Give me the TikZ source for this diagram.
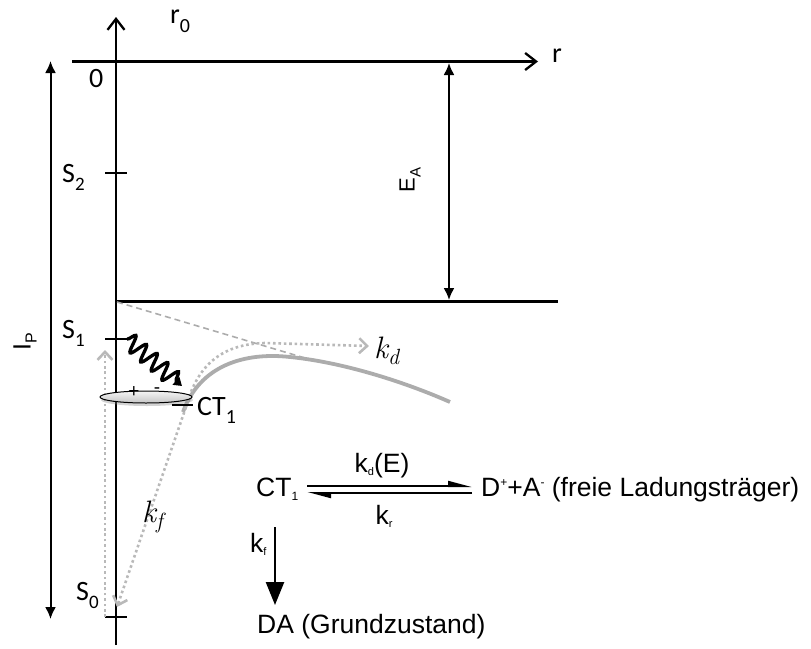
\documentclass[tikz,border=0pt]{standalone}
\usepackage{fontspec}
\newfontfamily\calf{Carlito}
\newfontfamily\arif{Liberation Sans}
\usetikzlibrary{arrows.meta,decorations.pathmorphing,shadows,shapes.geometric}
\definecolor{lgray}{RGB}{172,172,172}
\definecolor{dgray}{RGB}{185,185,185}
\begin{document}
\begin{tikzpicture}[x=1pt,y=-1pt,
  axis/.style={line width=2.3pt},
  openarrow/.style={-{Straight Barb[length=11pt,width=17pt]}},
  dimarrow/.style={line width=2pt,{Latex[length=12pt,width=11pt]}-{Latex[length=12pt,width=11pt]}},
  tickmark/.style={line width=2.3pt},
  clab/.style={inner sep=0pt, font=\calf\fontsize{28}{30}\selectfont},
  alab/.style={inner sep=0pt, font=\arif\fontsize{26.5}{28}\selectfont},
  mlab/.style={inner sep=0pt, font=\fontsize{31}{33}\selectfont\itshape},
  gdot/.style={draw=dgray, line width=2.6pt, dash pattern=on 2.6pt off 2.8pt},
  gtip/.style={-{Straight Barb[length=8pt,width=15pt]}},
  eqarrow/.style={line width=2pt,-{Triangle[left,length=20pt,width=10pt]}}
]
\useasboundingbox (0,0) rectangle (811,648);
% axes
\coordinate (ybot) at (116,645);
\coordinate (ytop) at (116,17);
\coordinate (xl) at (72,61.5);
\coordinate (xr) at (538,61.5);
\draw[axis,openarrow] (ybot) -- (ytop);
\draw[axis,openarrow] (xl) -- (xr);
% I_P and E_A
\coordinate (ipt) at (50.5,61);
\coordinate (ipb) at (50.5,619);
\draw[dimarrow] (ipt) -- (ipb);
\coordinate (eat) at (449,63);
\coordinate (eab) at (449,300);
\draw[dimarrow] (eat) -- (eab);
% lower level line
\coordinate (lo0) at (116,301.5);
\coordinate (lo1) at (558,301.5);
\draw[axis] (lo0) -- (lo1);
% ticks
\coordinate (t2a) at (105,173); \coordinate (t2b) at (127,173);
\coordinate (t1a) at (105,339); \coordinate (t1b) at (127,339);
\coordinate (t0a) at (105,617); \coordinate (t0b) at (127,617);
\draw[tickmark] (t2a) -- (t2b);
\draw[tickmark] (t1a) -- (t1b);
\draw[tickmark] (t0a) -- (t0b);
% gray dashed line
\coordinate (da0) at (117,302);
\coordinate (da1) at (315,361);
\draw[draw=lgray, line width=1.6pt, dash pattern=on 6pt off 4pt] (da0) -- (da1);
% gray potential curve
\coordinate (gc0) at (183,412);
\coordinate (gc1) at (290,357);
\coordinate (gc2) at (450,402);
\draw[draw=lgray, line width=3.8pt] (gc0) .. controls (200,365) and (245,352) .. (gc1) .. controls (340,362) and (400,380) .. (gc2);
% dotted arrows
\coordinate (ctc) at (186,407);
\coordinate (kdm) at (265,343);
\coordinate (kdt) at (369,346);
\coordinate (kft) at (117,607);
\coordinate (vb) at (105,617);
\coordinate (vt) at (105,350);
\draw[gdot,gtip] (ctc) .. controls (198,362) and (225,344) .. (kdm) -- (kdt);
\draw[gdot,gtip] (ctc) -- (kft);
\draw[gdot,gtip] (vb) -- (vt);
% CT ellipse
\node[ellipse, draw, line width=1pt, minimum width=92pt, minimum height=12pt, inner sep=0pt,
      top color=gray!8, bottom color=gray!45,
      drop shadow={shadow xshift=1pt, shadow yshift=-3pt, opacity=0.35}] (ctx) at (146,397) {};
\node[inner sep=0pt, font=\arif\fontsize{19}{19}\selectfont] (pl) at (134,392) {+};
\node[inner sep=0pt, font=\arif\fontsize{19}{19}\selectfont] (mi) at (157,391) {-};
\coordinate (tca) at (172,405); \coordinate (tcb) at (193,405);
\draw[tickmark] (tca) -- (tcb);
% wavy arrow
\coordinate (wv) at (182,386);
\draw[line width=3.3pt, decorate, decoration={snake,segment length=14pt,amplitude=8.5pt,post length=6pt},
      -{Triangle[length=8pt,width=10pt]}] (t1b) -- (wv);
% axis labels
\node[clab, anchor=base west] (r0) at (170,23) {r\raisebox{-9pt}{\fontsize{20}{20}\selectfont 0}};
\node[clab, anchor=base west] (rl) at (552,62) {r};
\node[clab, anchor=base west] (zero) at (89,87) {0};
\node[clab, anchor=base west] (s2) at (62,182) {S\raisebox{-8pt}{\fontsize{19}{19}\selectfont 2}};
\node[clab, anchor=base west] (s1) at (62,338) {S\raisebox{-8pt}{\fontsize{19}{19}\selectfont 1}};
\node[clab, anchor=base west] (s0) at (76,600) {S\raisebox{-8pt}{\fontsize{19}{19}\selectfont 0}};
\node[clab, anchor=base west] (ct1a) at (197,415) {CT\raisebox{-8pt}{\fontsize{20}{20}\selectfont 1}};
\node[inner sep=0pt, rotate=90, font=\arif\fontsize{22}{24}\selectfont] (ea) at (410,180) {E\raisebox{-6pt}{\fontsize{15}{15}\selectfont A}};
\node[inner sep=0pt, rotate=90, font=\arif\fontsize{25}{27}\selectfont] (ip) at (25,342) {I\raisebox{-6pt}{\fontsize{16}{16}\selectfont P}};
\node[mlab, anchor=base west] (kd) at (374,358) {k\raisebox{-6pt}{\fontsize{22}{22}\selectfont d}};
\node[mlab, anchor=base west] (kf) at (142,522) {k\raisebox{-6pt}{\fontsize{22}{22}\selectfont f}};
% reaction scheme
\node[alab, anchor=base west] (ct1b) at (256,496) {CT\raisebox{-4pt}{\fontsize{12}{12}\selectfont 1}};
\node[alab, anchor=base west] (dpa) at (481,496) {D\raisebox{10pt}{\fontsize{12}{12}\selectfont +}+A\raisebox{10pt}{\fontsize{12}{12}\selectfont -} (freie Ladungsträger)};
\coordinate (e1) at (307,486); \coordinate (e2) at (472,486);
\coordinate (e3) at (472,493); \coordinate (e4) at (307,493);
\draw[eqarrow] (e1) -- (e2);
\draw[eqarrow] (e3) -- (e4);
\node[alab, anchor=base] (kde) at (382,472) {k\raisebox{-3pt}{\fontsize{11}{11}\selectfont d}(E)};
\node[alab, anchor=base] (kr) at (384,524) {k\raisebox{-3pt}{\fontsize{11}{11}\selectfont r}};
\node[alab, anchor=base west] (kf2) at (250,552) {k\raisebox{-3pt}{\fontsize{11}{11}\selectfont f}};
\coordinate (fa0) at (275,527); \coordinate (fa1) at (275,605);
\draw[line width=2.5pt, -{Triangle[length=23pt,width=18pt]}] (fa0) -- (fa1);
\node[alab, anchor=base west] (dag) at (257,633) {DA (Grundzustand)};
\end{tikzpicture}
\end{document}
